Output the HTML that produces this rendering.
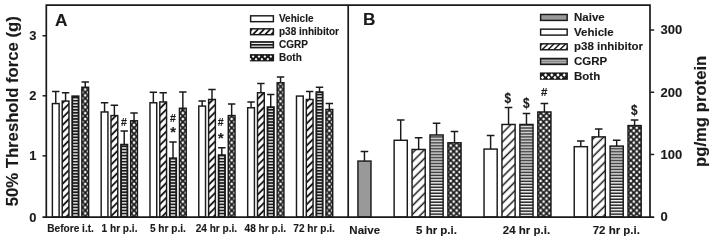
<!DOCTYPE html>
<html lang="en"><head><meta charset="utf-8"><title>Figure</title>
<style>
html,body{margin:0;padding:0;background:#fff;}
body{width:714px;height:241px;overflow:hidden;}
svg{display:block;}
</style></head>
<body>
<svg width="714" height="241" viewBox="0 0 714 241" font-family="'Liberation Sans', Arial, sans-serif" font-weight="bold" fill="#1a1a1a" stroke="#1a1a1a" stroke-width="0">
<rect width="714" height="241" fill="#fff"/>
<defs>
<pattern id="diag" width="6.2" height="6.2" patternUnits="userSpaceOnUse" patternTransform="rotate(-45)">
  <rect width="6.2" height="6.2" fill="#fff"/>
  <line x1="0" y1="3" x2="6.2" y2="3" stroke="#1a1a1a" stroke-width="1.5"/>
</pattern>
<pattern id="diagA" width="5.2" height="5.2" patternUnits="userSpaceOnUse" patternTransform="rotate(-45)">
  <rect width="5.2" height="5.2" fill="#fff"/>
  <line x1="0" y1="2.6" x2="5.2" y2="2.6" stroke="#1a1a1a" stroke-width="1.9"/>
</pattern>
<pattern id="hor" width="4" height="2.97" patternUnits="userSpaceOnUse">
  <rect width="4" height="2.97" fill="#858585"/>
  <rect y="0" width="4" height="0.95" fill="#1a1a1a"/>
  <rect y="0.95" width="4" height="1.0" fill="#fafafa"/>
</pattern>
<pattern id="horA" width="4" height="3.05" patternUnits="userSpaceOnUse">
  <rect width="4" height="3.05" fill="#1a1a1a"/>
  <rect y="0.9" width="4" height="1.3" fill="#f2f2f2"/>
</pattern>
<pattern id="x1" x="85.25" y="1" width="5.9" height="5.9" patternUnits="userSpaceOnUse"><rect width="5.9" height="5.9" fill="#1a1a1a"/><path d="M-1.68 0L0 -1.68L1.68 0L0 1.68ZM4.22 0L5.9 -1.68L7.58 0L5.9 1.68ZM-1.68 5.9L0 4.22L1.68 5.9L0 7.58ZM4.22 5.9L5.9 4.22L7.58 5.9L5.9 7.58ZM1.27 2.95L2.95 1.27L4.63 2.95L2.95 4.63Z" fill="#fff"/></pattern>
<pattern id="x2" x="134.04" y="1" width="5.9" height="5.9" patternUnits="userSpaceOnUse"><rect width="5.9" height="5.9" fill="#1a1a1a"/><path d="M-1.68 0L0 -1.68L1.68 0L0 1.68ZM4.22 0L5.9 -1.68L7.58 0L5.9 1.68ZM-1.68 5.9L0 4.22L1.68 5.9L0 7.58ZM4.22 5.9L5.9 4.22L7.58 5.9L5.9 7.58ZM1.27 2.95L2.95 1.27L4.63 2.95L2.95 4.63Z" fill="#fff"/></pattern>
<pattern id="x3" x="182.84" y="1" width="5.9" height="5.9" patternUnits="userSpaceOnUse"><rect width="5.9" height="5.9" fill="#1a1a1a"/><path d="M-1.68 0L0 -1.68L1.68 0L0 1.68ZM4.22 0L5.9 -1.68L7.58 0L5.9 1.68ZM-1.68 5.9L0 4.22L1.68 5.9L0 7.58ZM4.22 5.9L5.9 4.22L7.58 5.9L5.9 7.58ZM1.27 2.95L2.95 1.27L4.63 2.95L2.95 4.63Z" fill="#fff"/></pattern>
<pattern id="x4" x="231.65" y="1" width="5.9" height="5.9" patternUnits="userSpaceOnUse"><rect width="5.9" height="5.9" fill="#1a1a1a"/><path d="M-1.68 0L0 -1.68L1.68 0L0 1.68ZM4.22 0L5.9 -1.68L7.58 0L5.9 1.68ZM-1.68 5.9L0 4.22L1.68 5.9L0 7.58ZM4.22 5.9L5.9 4.22L7.58 5.9L5.9 7.58ZM1.27 2.95L2.95 1.27L4.63 2.95L2.95 4.63Z" fill="#fff"/></pattern>
<pattern id="x5" x="280.55" y="1" width="5.9" height="5.9" patternUnits="userSpaceOnUse"><rect width="5.9" height="5.9" fill="#1a1a1a"/><path d="M-1.68 0L0 -1.68L1.68 0L0 1.68ZM4.22 0L5.9 -1.68L7.58 0L5.9 1.68ZM-1.68 5.9L0 4.22L1.68 5.9L0 7.58ZM4.22 5.9L5.9 4.22L7.58 5.9L5.9 7.58ZM1.27 2.95L2.95 1.27L4.63 2.95L2.95 4.63Z" fill="#fff"/></pattern>
<pattern id="x6" x="329.35" y="1" width="5.9" height="5.9" patternUnits="userSpaceOnUse"><rect width="5.9" height="5.9" fill="#1a1a1a"/><path d="M-1.68 0L0 -1.68L1.68 0L0 1.68ZM4.22 0L5.9 -1.68L7.58 0L5.9 1.68ZM-1.68 5.9L0 4.22L1.68 5.9L0 7.58ZM4.22 5.9L5.9 4.22L7.58 5.9L5.9 7.58ZM1.27 2.95L2.95 1.27L4.63 2.95L2.95 4.63Z" fill="#fff"/></pattern>
<pattern id="x7" x="453.69" y="1" width="5.9" height="5.9" patternUnits="userSpaceOnUse"><rect width="5.9" height="5.9" fill="#1a1a1a"/><path d="M-1.68 0L0 -1.68L1.68 0L0 1.68ZM4.22 0L5.9 -1.68L7.58 0L5.9 1.68ZM-1.68 5.9L0 4.22L1.68 5.9L0 7.58ZM4.22 5.9L5.9 4.22L7.58 5.9L5.9 7.58ZM1.27 2.95L2.95 1.27L4.63 2.95L2.95 4.63Z" fill="#fff"/></pattern>
<pattern id="x8" x="543.6" y="1" width="5.9" height="5.9" patternUnits="userSpaceOnUse"><rect width="5.9" height="5.9" fill="#1a1a1a"/><path d="M-1.68 0L0 -1.68L1.68 0L0 1.68ZM4.22 0L5.9 -1.68L7.58 0L5.9 1.68ZM-1.68 5.9L0 4.22L1.68 5.9L0 7.58ZM4.22 5.9L5.9 4.22L7.58 5.9L5.9 7.58ZM1.27 2.95L2.95 1.27L4.63 2.95L2.95 4.63Z" fill="#fff"/></pattern>
<pattern id="x9" x="633.8" y="1" width="5.9" height="5.9" patternUnits="userSpaceOnUse"><rect width="5.9" height="5.9" fill="#1a1a1a"/><path d="M-1.68 0L0 -1.68L1.68 0L0 1.68ZM4.22 0L5.9 -1.68L7.58 0L5.9 1.68ZM-1.68 5.9L0 4.22L1.68 5.9L0 7.58ZM4.22 5.9L5.9 4.22L7.58 5.9L5.9 7.58ZM1.27 2.95L2.95 1.27L4.63 2.95L2.95 4.63Z" fill="#fff"/></pattern>
<clipPath id="c1"><rect x="249.9" y="28.1" width="24.2" height="7.3"/></clipPath>
<clipPath id="c2"><rect x="249.9" y="41.1" width="24.2" height="7.3"/></clipPath>
<clipPath id="c3"><rect x="249.9" y="54.1" width="24.2" height="7.3"/></clipPath>
<clipPath id="c4"><rect x="539.9" y="43.09" width="28" height="7.4"/></clipPath>
<clipPath id="c5"><rect x="539.9" y="57.76" width="28" height="7.4"/></clipPath>
<clipPath id="c6"><rect x="539.9" y="72.43" width="28" height="7.4"/></clipPath>
</defs>
<path d="M55.75 103.57V91.57M52.05 91.57H59.45" stroke="#1a1a1a" stroke-width="1.45" fill="none"/>
<rect x="52.38" y="103.57" width="6.75" height="113.53" fill="#fff" stroke="#1a1a1a" stroke-width="1.45"/>
<path d="M65.58 101.07V92.77M61.88 92.77H69.28" stroke="#1a1a1a" stroke-width="1.45" fill="none"/>
<rect x="62.21" y="101.07" width="6.75" height="116.03" fill="url(#diagA)" stroke="#1a1a1a" stroke-width="1.45"/>
<rect x="72.04" y="96.07" width="6.75" height="121.03" fill="#1a1a1a" stroke="#1a1a1a" stroke-width="1.45"/>
<rect x="73.17" y="97.2" width="4.5" height="119.18" fill="url(#horA)"/>
<path d="M85.25 87.27V81.97M81.55 81.97H88.95" stroke="#1a1a1a" stroke-width="1.45" fill="none"/>
<rect x="81.87" y="87.27" width="6.75" height="129.82" fill="url(#x1)" stroke="#1a1a1a" stroke-width="1.45"/>
<path d="M104.55 111.97V102.77M100.85 102.77H108.25" stroke="#1a1a1a" stroke-width="1.45" fill="none"/>
<rect x="101.18" y="111.97" width="6.75" height="105.12" fill="#fff" stroke="#1a1a1a" stroke-width="1.45"/>
<path d="M114.38 115.57V105.27M110.68 105.27H118.08" stroke="#1a1a1a" stroke-width="1.45" fill="none"/>
<rect x="111.01" y="115.57" width="6.75" height="101.53" fill="url(#diagA)" stroke="#1a1a1a" stroke-width="1.45"/>
<path d="M124.22 144.47V131.08M120.52 131.08H127.92" stroke="#1a1a1a" stroke-width="1.45" fill="none"/>
<rect x="120.84" y="144.47" width="6.75" height="72.62" fill="#1a1a1a" stroke="#1a1a1a" stroke-width="1.45"/>
<rect x="121.97" y="145.6" width="4.5" height="70.78" fill="url(#horA)"/>
<path d="M134.04 120.77V113.07M130.34 113.07H137.74" stroke="#1a1a1a" stroke-width="1.45" fill="none"/>
<rect x="130.67" y="120.77" width="6.75" height="96.33" fill="url(#x2)" stroke="#1a1a1a" stroke-width="1.45"/>
<path d="M153.35 102.77V92.27M149.66 92.27H157.05" stroke="#1a1a1a" stroke-width="1.45" fill="none"/>
<rect x="149.98" y="102.77" width="6.75" height="114.33" fill="#fff" stroke="#1a1a1a" stroke-width="1.45"/>
<path d="M163.19 101.97V92.77M159.49 92.77H166.88" stroke="#1a1a1a" stroke-width="1.45" fill="none"/>
<rect x="159.81" y="101.97" width="6.75" height="115.12" fill="url(#diagA)" stroke="#1a1a1a" stroke-width="1.45"/>
<path d="M173.01 158.08V141.97M169.31 141.97H176.71" stroke="#1a1a1a" stroke-width="1.45" fill="none"/>
<rect x="169.64" y="158.08" width="6.75" height="59.02" fill="#1a1a1a" stroke="#1a1a1a" stroke-width="1.45"/>
<rect x="170.76" y="159.2" width="4.5" height="57.17" fill="url(#horA)"/>
<path d="M182.84 108.27V91.97M179.15 91.97H186.54" stroke="#1a1a1a" stroke-width="1.45" fill="none"/>
<rect x="179.47" y="108.27" width="6.75" height="108.83" fill="url(#x3)" stroke="#1a1a1a" stroke-width="1.45"/>
<path d="M202.16 106.07V101.07M198.46 101.07H205.85" stroke="#1a1a1a" stroke-width="1.45" fill="none"/>
<rect x="198.78" y="106.07" width="6.75" height="111.03" fill="#fff" stroke="#1a1a1a" stroke-width="1.45"/>
<path d="M211.99 99.47V89.47M208.29 89.47H215.69" stroke="#1a1a1a" stroke-width="1.45" fill="none"/>
<rect x="208.61" y="99.47" width="6.75" height="117.62" fill="url(#diagA)" stroke="#1a1a1a" stroke-width="1.45"/>
<path d="M221.81 154.97V147.78M218.12 147.78H225.51" stroke="#1a1a1a" stroke-width="1.45" fill="none"/>
<rect x="218.44" y="154.97" width="6.75" height="62.12" fill="#1a1a1a" stroke="#1a1a1a" stroke-width="1.45"/>
<rect x="219.56" y="156.1" width="4.5" height="60.27" fill="url(#horA)"/>
<path d="M231.65 115.57V103.97M227.95 103.97H235.34" stroke="#1a1a1a" stroke-width="1.45" fill="none"/>
<rect x="228.27" y="115.57" width="6.75" height="101.53" fill="url(#x4)" stroke="#1a1a1a" stroke-width="1.45"/>
<path d="M251.06 107.77V101.97M247.36 101.97H254.75" stroke="#1a1a1a" stroke-width="1.45" fill="none"/>
<rect x="247.68" y="107.77" width="6.75" height="109.33" fill="#fff" stroke="#1a1a1a" stroke-width="1.45"/>
<path d="M260.88 92.77V83.57M257.19 83.57H264.58" stroke="#1a1a1a" stroke-width="1.45" fill="none"/>
<rect x="257.51" y="92.77" width="6.75" height="124.33" fill="url(#diagA)" stroke="#1a1a1a" stroke-width="1.45"/>
<path d="M270.72 106.97V94.47M267.02 94.47H274.42" stroke="#1a1a1a" stroke-width="1.45" fill="none"/>
<rect x="267.34" y="106.97" width="6.75" height="110.12" fill="#1a1a1a" stroke="#1a1a1a" stroke-width="1.45"/>
<rect x="268.47" y="108.1" width="4.5" height="108.28" fill="url(#horA)"/>
<path d="M280.55 82.77V76.97M276.85 76.97H284.25" stroke="#1a1a1a" stroke-width="1.45" fill="none"/>
<rect x="277.17" y="82.77" width="6.75" height="134.32" fill="url(#x5)" stroke="#1a1a1a" stroke-width="1.45"/>
<rect x="296.48" y="96.07" width="6.75" height="121.03" fill="#fff" stroke="#1a1a1a" stroke-width="1.45"/>
<path d="M309.69 99.47V91.57M305.99 91.57H313.38" stroke="#1a1a1a" stroke-width="1.45" fill="none"/>
<rect x="306.31" y="99.47" width="6.75" height="117.62" fill="url(#diagA)" stroke="#1a1a1a" stroke-width="1.45"/>
<path d="M319.52 91.97V87.27M315.82 87.27H323.22" stroke="#1a1a1a" stroke-width="1.45" fill="none"/>
<rect x="316.14" y="91.97" width="6.75" height="125.12" fill="#1a1a1a" stroke="#1a1a1a" stroke-width="1.45"/>
<rect x="317.27" y="93.1" width="4.5" height="123.28" fill="url(#horA)"/>
<path d="M329.35 109.47V103.57M325.65 103.57H333.05" stroke="#1a1a1a" stroke-width="1.45" fill="none"/>
<rect x="325.97" y="109.47" width="6.75" height="107.62" fill="url(#x6)" stroke="#1a1a1a" stroke-width="1.45"/>
<path d="M364.45 161.08V151.58M360.65 151.58H368.25" stroke="#1a1a1a" stroke-width="1.45" fill="none"/>
<rect x="357.93" y="161.08" width="13.05" height="56.02" fill="#999" stroke="#1a1a1a" stroke-width="1.45"/>
<path d="M400.71 140.28V119.97M396.91 119.97H404.51" stroke="#1a1a1a" stroke-width="1.45" fill="none"/>
<rect x="394.13" y="140.28" width="13.15" height="76.82" fill="#fff" stroke="#1a1a1a" stroke-width="1.45"/>
<path d="M418.64 149.47V137.78M414.84 137.78H422.44" stroke="#1a1a1a" stroke-width="1.45" fill="none"/>
<rect x="412.06" y="149.47" width="13.15" height="67.62" fill="url(#diag)" stroke="#1a1a1a" stroke-width="1.45"/>
<path d="M436.56 134.97V123.27M432.76 123.27H440.37" stroke="#1a1a1a" stroke-width="1.45" fill="none"/>
<rect x="429.99" y="134.97" width="13.15" height="82.12" fill="url(#hor)" stroke="#1a1a1a" stroke-width="1.45"/>
<path d="M454.5 142.78V131.47M450.69 131.47H458.3" stroke="#1a1a1a" stroke-width="1.45" fill="none"/>
<rect x="447.92" y="142.78" width="13.15" height="74.32" fill="url(#x7)" stroke="#1a1a1a" stroke-width="1.45"/>
<path d="M490.61 149.08V135.58M486.81 135.58H494.41" stroke="#1a1a1a" stroke-width="1.45" fill="none"/>
<rect x="484.03" y="149.08" width="13.15" height="68.02" fill="#fff" stroke="#1a1a1a" stroke-width="1.45"/>
<path d="M508.54 124.47V107.47M504.74 107.47H512.34" stroke="#1a1a1a" stroke-width="1.45" fill="none"/>
<rect x="501.96" y="124.47" width="13.15" height="92.62" fill="url(#diag)" stroke="#1a1a1a" stroke-width="1.45"/>
<path d="M526.47 124.47V113.57M522.67 113.57H530.26" stroke="#1a1a1a" stroke-width="1.45" fill="none"/>
<rect x="519.89" y="124.47" width="13.15" height="92.62" fill="url(#hor)" stroke="#1a1a1a" stroke-width="1.45"/>
<path d="M544.39 111.97V103.57M540.6 103.57H548.19" stroke="#1a1a1a" stroke-width="1.45" fill="none"/>
<rect x="537.82" y="111.97" width="13.15" height="105.12" fill="url(#x8)" stroke="#1a1a1a" stroke-width="1.45"/>
<path d="M580.81 146.68V140.97M577.01 140.97H584.61" stroke="#1a1a1a" stroke-width="1.45" fill="none"/>
<rect x="574.23" y="146.68" width="13.15" height="70.42" fill="#fff" stroke="#1a1a1a" stroke-width="1.45"/>
<path d="M598.74 136.88V128.97M594.94 128.97H602.53" stroke="#1a1a1a" stroke-width="1.45" fill="none"/>
<rect x="592.16" y="136.88" width="13.15" height="80.22" fill="url(#diag)" stroke="#1a1a1a" stroke-width="1.45"/>
<path d="M616.67 146.08V140.28M612.87 140.28H620.47" stroke="#1a1a1a" stroke-width="1.45" fill="none"/>
<rect x="610.09" y="146.08" width="13.15" height="71.02" fill="url(#hor)" stroke="#1a1a1a" stroke-width="1.45"/>
<path d="M634.6 125.57V119.97M630.8 119.97H638.39" stroke="#1a1a1a" stroke-width="1.45" fill="none"/>
<rect x="628.02" y="125.57" width="13.15" height="91.53" fill="url(#x9)" stroke="#1a1a1a" stroke-width="1.45"/>
<path d="M46.3 217.1V5.15H650.0V217.1M348.2 5.15V217.1" stroke="#1a1a1a" stroke-width="1.7" fill="none" stroke-linejoin="miter"/>
<path d="M42.5 217.1H654.2" stroke="#1a1a1a" stroke-width="1.7" fill="none"/>
<path d="M42.5 155.85H46.3" stroke="#1a1a1a" stroke-width="1.45"/>
<path d="M42.5 95.8H46.3" stroke="#1a1a1a" stroke-width="1.45"/>
<path d="M42.5 35.75H46.3" stroke="#1a1a1a" stroke-width="1.45"/>
<path d="M650.0 154.47H654.2" stroke="#1a1a1a" stroke-width="1.45"/>
<path d="M650.0 92.24H654.2" stroke="#1a1a1a" stroke-width="1.45"/>
<path d="M650.0 30.01H654.2" stroke="#1a1a1a" stroke-width="1.45"/>
<text x="36.5" y="221.9" font-size="12.9" text-anchor="end" stroke-width="0.12" >0</text>
<text x="36.5" y="160.45" font-size="12.9" text-anchor="end" stroke-width="0.12" >1</text>
<text x="36.5" y="100.4" font-size="12.9" text-anchor="end" stroke-width="0.12" >2</text>
<text x="36.5" y="40.35" font-size="12.9" text-anchor="end" stroke-width="0.12" >3</text>
<text x="660.6" y="221.1" font-size="13" text-anchor="start" stroke-width="0.12" >0</text>
<text x="660.6" y="158.87" font-size="13" text-anchor="start" stroke-width="0.12" >100</text>
<text x="660.6" y="96.64" font-size="13" text-anchor="start" stroke-width="0.12" >200</text>
<text x="660.6" y="34.41" font-size="13" text-anchor="start" stroke-width="0.12" >300</text>
<text x="55" y="26.2" font-size="17.3" text-anchor="start" stroke-width="0.12" >A</text>
<text x="363" y="25" font-size="17.2" text-anchor="start" stroke-width="0.12" >B</text>
<text transform="translate(18.2 206.3) rotate(-90)" font-size="16.7" stroke-width="0.12">50% Threshold force (g)</text>
<text transform="translate(705.6 167.0) rotate(-90)" font-size="16.7" stroke-width="0.12">pg/mg protein</text>
<text x="70.6" y="231.5" font-size="10.1" text-anchor="middle" stroke-width="0.12" >Before i.t.</text>
<text x="119.5" y="231.5" font-size="10.1" text-anchor="middle" stroke-width="0.12" >1 hr p.i.</text>
<text x="167.9" y="231.5" font-size="10.1" text-anchor="middle" stroke-width="0.12" >5 hr p.i.</text>
<text x="216.4" y="231.5" font-size="10.1" text-anchor="middle" stroke-width="0.12" >24 hr p.i.</text>
<text x="265.3" y="231.5" font-size="10.1" text-anchor="middle" stroke-width="0.12" >48 hr p.i.</text>
<text x="314.1" y="231.5" font-size="10.1" text-anchor="middle" stroke-width="0.12" >72 hr p.i.</text>
<text x="364.7" y="233.7" font-size="11.5" text-anchor="middle" stroke-width="0.12" >Naive</text>
<text x="436.5" y="233.7" font-size="11.5" text-anchor="middle" stroke-width="0.12" >5 hr p.i.</text>
<text x="526.5" y="233.7" font-size="11.5" text-anchor="middle" stroke-width="0.12" >24 hr p.i.</text>
<text x="616.3" y="233.7" font-size="11.5" text-anchor="middle" stroke-width="0.12" >72 hr p.i.</text>
<text x="124" y="125.7" font-size="10.5" text-anchor="middle" stroke-width="0.12" >#</text>
<text x="173" y="121.5" font-size="10.5" text-anchor="middle" stroke-width="0.12" >#</text>
<text x="173.2" y="136.6" font-size="14.5" text-anchor="middle" stroke-width="0.12" >*</text>
<text x="220.6" y="126.3" font-size="10.5" text-anchor="middle" stroke-width="0.12" >#</text>
<text x="220.8" y="143.2" font-size="14.5" text-anchor="middle" stroke-width="0.12" >*</text>
<text transform="translate(507.9 102.95) scale(1 1.19)" font-size="11.8" text-anchor="middle" stroke-width="0.12">$</text>
<text transform="translate(526.3 108.25) scale(1 1.19)" font-size="11.8" text-anchor="middle" stroke-width="0.12">$</text>
<text x="544.2" y="96.4" font-size="11.5" text-anchor="middle" stroke-width="0.12" >#</text>
<text transform="translate(634.2 115.25) scale(1 1.19)" font-size="11.8" text-anchor="middle" stroke-width="0.12">$</text>
<rect x="250.62" y="15.82" width="22.75" height="5.85" fill="#fff" stroke="#1a1a1a" stroke-width="1.45"/>
<text x="279" y="22.35" font-size="10.0" text-anchor="start" stroke-width="0.12" >Vehicle</text>
<rect x="250.62" y="28.83" width="22.75" height="5.85" fill="#fff" stroke="#1a1a1a" stroke-width="1.45"/>
<path d="M246.9 34.45L252.1 29.05M253 34.45L258.2 29.05M259.1 34.45L264.3 29.05M265.2 34.45L270.4 29.05M271.3 34.45L276.5 29.05" stroke="#1a1a1a" stroke-width="1.8" fill="none" clip-path="url(#c1)"/>
<text x="279" y="35.35" font-size="10.0" text-anchor="start" stroke-width="0.12" >p38 inhibitor</text>
<rect x="249.9" y="41.1" width="24.2" height="7.3" fill="#1a1a1a"/>
<rect x="251.35" y="42.85" width="21.3" height="1.1" fill="#f6f6f6"/>
<rect x="251.35" y="45.65" width="21.3" height="1.1" fill="#f6f6f6"/>
<text x="279" y="48.35" font-size="10.0" text-anchor="start" stroke-width="0.12" >CGRP</text>
<rect x="249.9" y="54.1" width="24.2" height="7.3" fill="#1a1a1a"/>
<path d="M251.7 56.55L253.1 55.15L254.5 56.55L253.1 57.95ZM257.6 56.55L259 55.15L260.4 56.55L259 57.95ZM263.5 56.55L264.9 55.15L266.3 56.55L264.9 57.95ZM269.4 56.55L270.8 55.15L272.2 56.55L270.8 57.95ZM248.75 59.15L250.15 57.75L251.55 59.15L250.15 60.55ZM254.65 59.15L256.05 57.75L257.45 59.15L256.05 60.55ZM260.55 59.15L261.95 57.75L263.35 59.15L261.95 60.55ZM266.45 59.15L267.85 57.75L269.25 59.15L267.85 60.55Z" fill="#fff" clip-path="url(#c3)"/>
<text x="279" y="61.35" font-size="10.0" text-anchor="start" stroke-width="0.12" >Both</text>
<rect x="540.62" y="14.47" width="26.55" height="5.95" fill="#999" stroke="#1a1a1a" stroke-width="1.45"/>
<text x="574" y="21.1" font-size="11.5" text-anchor="start" stroke-width="0.12" >Naive</text>
<rect x="540.62" y="29.15" width="26.55" height="5.95" fill="#fff" stroke="#1a1a1a" stroke-width="1.45"/>
<text x="574" y="35.77" font-size="11.5" text-anchor="start" stroke-width="0.12" >Vehicle</text>
<rect x="540.62" y="43.82" width="26.55" height="5.95" fill="#fff" stroke="#1a1a1a" stroke-width="1.45"/>
<path d="M536.4 49.54L542.1 44.04M542.3 49.54L548 44.04M548.2 49.54L553.9 44.04M554.1 49.54L559.8 44.04M560 49.54L565.7 44.04M565.9 49.54L571.6 44.04" stroke="#1a1a1a" stroke-width="1.5" fill="none" clip-path="url(#c4)"/>
<text x="574" y="50.44" font-size="11.5" text-anchor="start" stroke-width="0.12" >p38 inhibitor</text>
<rect x="539.9" y="57.76" width="28" height="7.4" fill="#1a1a1a"/>
<rect x="541.35" y="59.66" width="25.1" height="1.1" fill="#f6f6f6"/>
<rect x="541.35" y="62.26" width="25.1" height="1.1" fill="#f6f6f6"/>
<rect x="541.35" y="60.66" width="25.1" height="1.6" fill="#888"/>
<text x="574" y="65.11" font-size="11.5" text-anchor="start" stroke-width="0.12" >CGRP</text>
<rect x="539.9" y="72.43" width="28" height="7.4" fill="#1a1a1a"/>
<path d="M543.9 74.93L545.6 73.23L547.3 74.93L545.6 76.63ZM550.1 74.93L551.8 73.23L553.5 74.93L551.8 76.63ZM556.3 74.93L558 73.23L559.7 74.93L558 76.63ZM562.5 74.93L564.2 73.23L565.9 74.93L564.2 76.63ZM540.8 77.53L542.5 75.83L544.2 77.53L542.5 79.23ZM547 77.53L548.7 75.83L550.4 77.53L548.7 79.23ZM553.2 77.53L554.9 75.83L556.6 77.53L554.9 79.23ZM559.4 77.53L561.1 75.83L562.8 77.53L561.1 79.23Z" fill="#fff" clip-path="url(#c6)"/>
<text x="574" y="79.78" font-size="11.5" text-anchor="start" stroke-width="0.12" >Both</text>
</svg>
</body></html>
